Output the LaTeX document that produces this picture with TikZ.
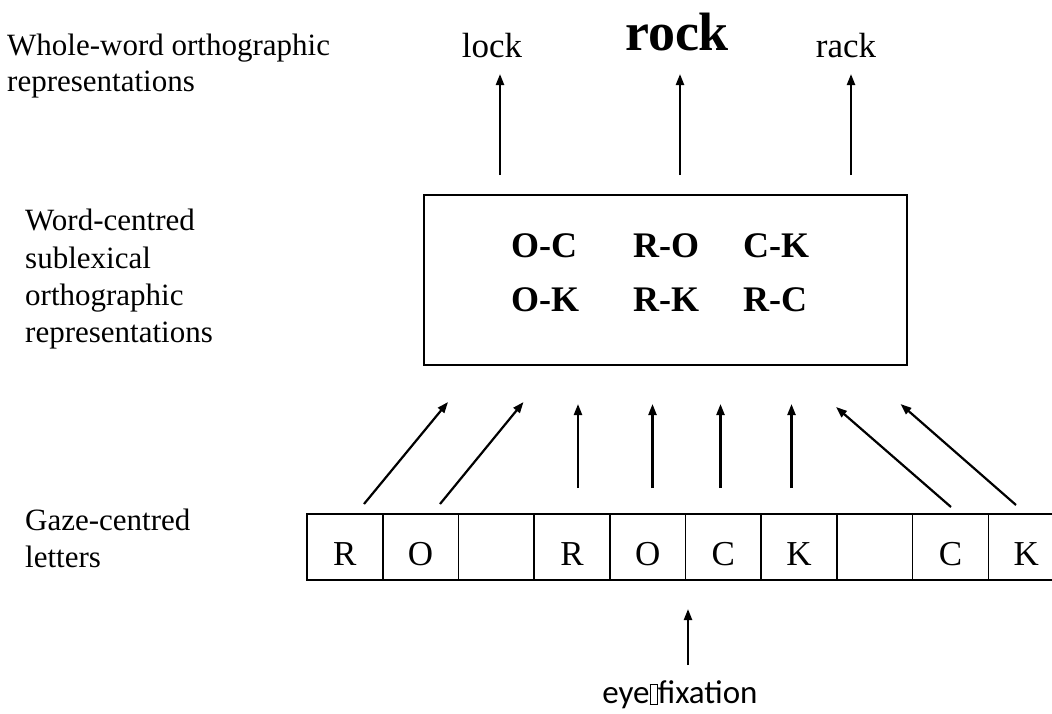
\documentclass[tikz,border=0pt]{standalone}
\usepackage{fontspec}
\setmainfont{Liberation Serif}
\newfontfamily\calibri{Carlito}
\usetikzlibrary{arrows.meta}
\begin{document}
\begin{tikzpicture}[x=1pt,y=-1pt,
  lbl/.style={anchor=base west,inner sep=0pt,font=\fontsize{31}{37}\selectfont},
  word/.style={anchor=base,inner sep=0pt,font=\fontsize{35}{40}\selectfont},
  pair/.style={anchor=base west,inner sep=0pt,font=\fontsize{36}{40}\selectfont\bfseries},
  cell/.style={draw,line width=1.6pt,minimum width=75.7pt,minimum height=66pt,inner sep=0pt,
    text height=36pt,text depth=0pt,font=\fontsize{35}{40}\selectfont},
  arr/.style={line width=2.2pt,-{Triangle[length=11pt,width=8pt]}},
  boxsty/.style={draw,line width=1.8pt,minimum width=483pt,minimum height=170pt,inner sep=0pt}]
\useasboundingbox (0,0) rectangle (1052,713);
\begin{scope}
\clip (0,0) rectangle (1052,713);
% labels
\node[lbl] (w1) at (7,55) {Whole-word orthographic};
\node[lbl] (w2) at (7,91) {representations};
\node[lbl] (s1) at (25,230) {Word-centred};
\node[lbl] (s2) at (25,268) {sublexical};
\node[lbl] (s3) at (25,305) {orthographic};
\node[lbl] (s4) at (25,342) {representations};
\node[lbl] (g1) at (25,530) {Gaze-centred};
\node[lbl] (g2) at (25,567) {letters};
% words
\node[word] (lock) at (492,57) {lock};
\node[word,font=\fontsize{54}{60}\selectfont\bfseries] (rock) at (677,50) {rock};
\node[word] (rack) at (846,57) {rack};
% sublexical box
\node[boxsty] (sub) at (665.5,280) {};
\node[pair] (p1) at (511,257) {O-C};
\node[pair] (p2) at (633,257) {R-O};
\node[pair] (p3) at (743,257) {C-K};
\node[pair] (p4) at (511,311) {O-K};
\node[pair] (p5) at (633,311) {R-K};
\node[pair] (p6) at (743,311) {R-C};
% cells
\foreach \i/\t in {1/R,2/O,3/,4/R,5/O,6/C,7/K,8/,9/C,10/K}
  \node[cell] (c\i) at ({307+75.7*(\i-0.5)},547) {\t};
% eye fixation
\node[anchor=base,inner sep=0pt,font=\calibri\fontsize{33}{38}\selectfont] (eye) at (680,703)
  {eye\raisebox{-1pt}{\fboxsep=0pt\fboxrule=0.6pt\fbox{\phantom{\rule{7pt}{19pt}}}}fixation};
% upward arrows to words
\coordinate (u1a) at (500,175); \coordinate (u1b) at (500,74);
\coordinate (u2a) at (680,175); \coordinate (u2b) at (680,74);
\coordinate (u3a) at (851,175); \coordinate (u3b) at (851,74);
\draw[arr] (u1a) -- (u1b);
\draw[arr] (u2a) -- (u2b);
\draw[arr] (u3a) -- (u3b);
% arrows from letters to box
\coordinate (d1a) at (364,504); \coordinate (d1b) at (448,402);
\coordinate (d2a) at (440,504); \coordinate (d2b) at (523.5,402);
\coordinate (d3a) at (578,488); \coordinate (d3b) at (578,404);
\coordinate (d4a) at (652.5,488); \coordinate (d4b) at (652.5,404);
\coordinate (d5a) at (720.5,488); \coordinate (d5b) at (720.5,404);
\coordinate (d6a) at (791.5,488); \coordinate (d6b) at (791.5,404);
\coordinate (d7a) at (951,507); \coordinate (d7b) at (836,407);
\coordinate (d8a) at (1016,505); \coordinate (d8b) at (900.5,404);
\foreach \k in {1,...,8} \draw[arr] (d\k a) -- (d\k b);
% eye arrow
\coordinate (e1) at (688,665); \coordinate (e2) at (688,609);
\draw[arr] (e1) -- (e2);
\end{scope}
\end{tikzpicture}
\end{document}
